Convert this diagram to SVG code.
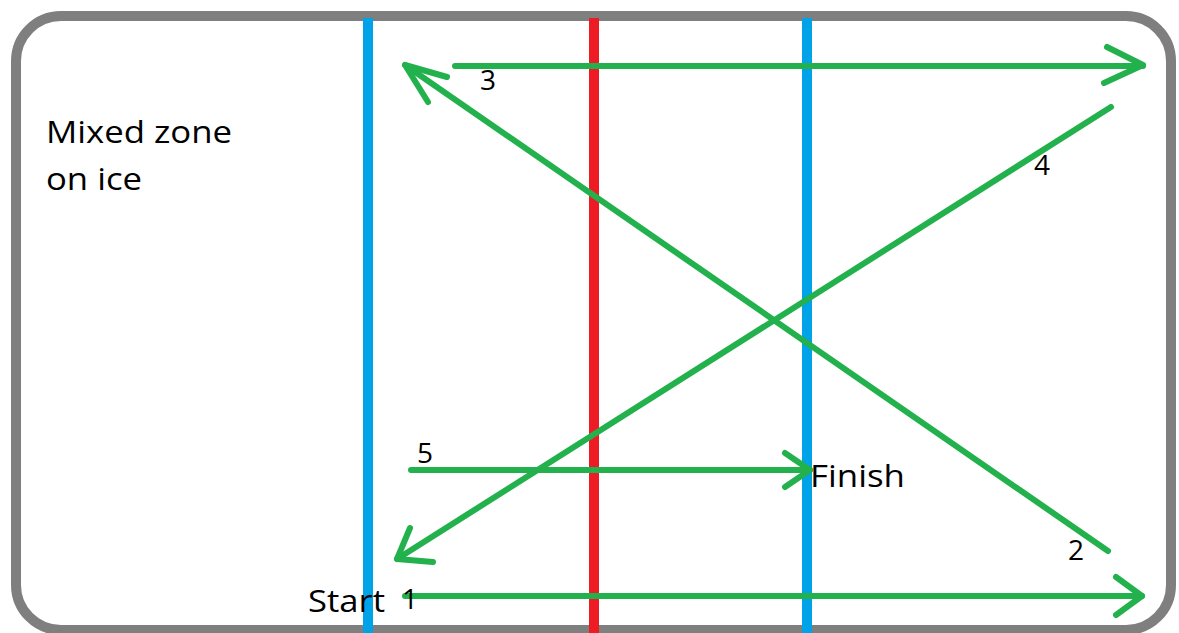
<svg xmlns="http://www.w3.org/2000/svg" width="1179" height="633" viewBox="0 0 1179 633">
<style>
.lbl{font-family:"Open Sans","Liberation Sans",sans-serif;font-size:31px;fill:#000}
.num{font-family:"Open Sans","Liberation Sans",sans-serif;font-size:28px;fill:#000}
.g{stroke:#22b14c;stroke-width:6;fill:none;stroke-linecap:round;stroke-linejoin:round}
</style>
<rect x="0" y="0" width="1179" height="633" fill="#fff"/>
<g id="rink">
<rect x="16" y="16" width="1155" height="614" rx="45" ry="45" fill="#fff" stroke="#7f7f7f" stroke-width="10"/>
</g>
<g id="lines">
<line x1="368" y1="18" x2="368" y2="633" stroke="#00a2e8" stroke-width="10"/>
<line x1="594" y1="18" x2="594" y2="633" stroke="#ed1c24" stroke-width="10"/>
<line x1="807" y1="18" x2="807" y2="633" stroke="#00a2e8" stroke-width="10"/>
</g>
<g id="connectors">
<line class="g" x1="405" y1="596" x2="1142" y2="596"/>
<polyline class="g" points="1116,577 1142,596 1116,615"/>
<line class="g" x1="1108" y1="551" x2="405" y2="65"/>
<polyline class="g" points="447,77 405,65 428,102"/>
<line class="g" x1="455" y1="66" x2="1143" y2="66"/>
<polyline class="g" points="1107,47 1143,65 1104,83"/>
<line class="g" x1="1111" y1="107" x2="397" y2="559"/>
<polyline class="g" points="410,528 397,559 433,562"/>
<line class="g" x1="411" y1="470" x2="810" y2="470"/>
<polyline class="g" points="785,453 810,470 785,487"/>
</g>
<g id="title"><text class="lbl" x="46" y="143" textLength="186" lengthAdjust="spacingAndGlyphs">Mixed zone</text><text class="lbl" x="46" y="190" textLength="96" lengthAdjust="spacingAndGlyphs">on ice</text></g>
<g id="start"><text class="lbl" x="308" y="612" textLength="77" lengthAdjust="spacingAndGlyphs">Start</text></g>
<g id="finish"><text class="lbl" x="810" y="487" textLength="95" lengthAdjust="spacingAndGlyphs">Finish</text></g>
<g id="n1"><text class="num" x="402" y="609">1</text></g>
<g id="n2"><text class="num" x="1068" y="560">2</text></g>
<g id="n3"><text class="num" x="480" y="90">3</text></g>
<g id="n4"><text class="num" x="1034" y="175">4</text></g>
<g id="n5"><text class="num" x="417" y="463">5</text></g>
</svg>
